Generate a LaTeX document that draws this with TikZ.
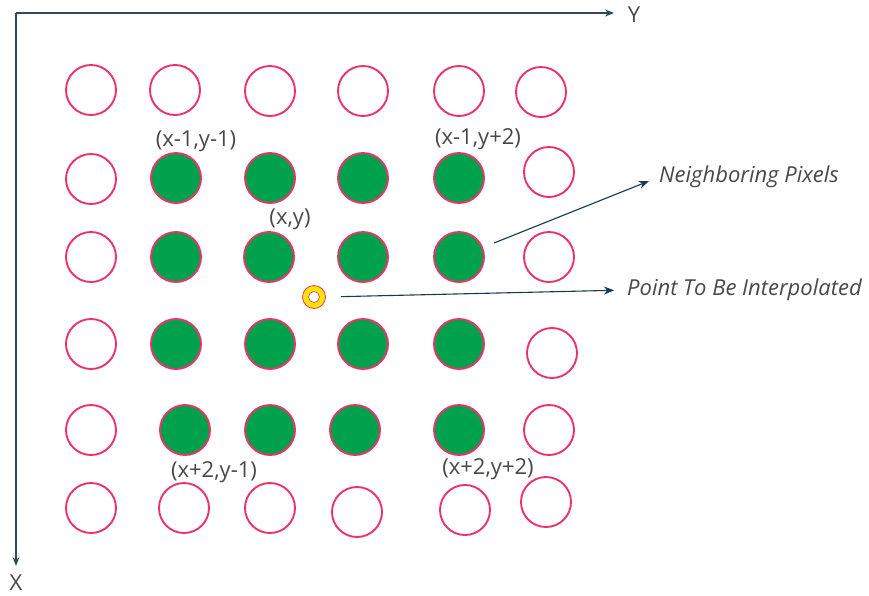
\documentclass[tikz,border=0pt]{standalone}
\usepackage{fontspec}
\setmainfont{Open Sans}
\usetikzlibrary{arrows.meta}

\definecolor{pixred}{RGB}{234,52,104}
\definecolor{pixgreen}{RGB}{0,161,76}
\definecolor{axisblue}{RGB}{45,75,90}
\definecolor{arrowblue}{RGB}{22,58,78}
\definecolor{ringyellow}{RGB}{255,228,0}
\definecolor{txtgray}{RGB}{72,72,72}

\begin{document}
\begin{tikzpicture}[x=1pt, y=-1pt,
	hole/.style={circle, draw=pixred, line width=1.9pt, fill=white, minimum size=50pt, inner sep=0pt},
	nbr/.style={hole, fill=pixgreen},
	lbl/.style={text=txtgray, font=\fontsize{22}{26}\selectfont, inner sep=0pt},
	axis/.style={axisblue, line width=1.2pt, -{Stealth[length=9pt,width=7pt]}},
	pointer/.style={arrowblue, line width=1.1pt, -{Stealth[length=10pt,width=8pt]}}]
	\useasboundingbox (0,0) rectangle (869,595);

	% axes
	\coordinate (O) at (16,13);
	\coordinate (Yend) at (614,13);
	\coordinate (Xend) at (16,566);
	\draw[axis] (O) -- (Yend);
	\draw[axis] (O) -- (Xend);
	\node[lbl] (ylab) at (634,15) {Y};
	\node[lbl] (xlab) at (16,583) {X};

	% empty pixels
	\foreach \n/\x/\y in {w11/91/90, w12/175/90, w13/270/91, w14/363/91, w15/459/91, w16/541/92,
		w21/91/179, w26/549/172, w31/91/257, w36/549/257, w41/91/344, w46/552/353,
		w51/91/430, w56/549/430, w61/91/508, w62/184/508, w63/270/508, w64/357/512,
		w65/465/510, w66/546/502}
		\node[hole] (\n) at (\x,\y) {};

	% neighboring pixels
	\foreach \n/\x/\y in {g22/176/178, g23/270/178, g24/363/178, g25/459/178,
		g32/176/257, g33/269/257, g34/363/257, g35/459/257,
		g42/176/344, g43/270/344, g44/363/344, g45/459/344,
		g52/185/430, g53/270/430, g54/355/430, g55/459/430}
		\node[nbr] (\n) at (\x,\y) {};

	% point to be interpolated
	\node[circle, draw=pixred, line width=0.8pt, fill=ringyellow, minimum size=23pt, inner sep=0pt] (interp) at (314,297) {};
	\draw[pixred, line width=0.6pt, fill=white] (interp.center) circle (5.5pt);

	% coordinate labels
	\node[lbl] (tl) at (196,141) {(x-1,y-1)};
	\node[lbl] (tr) at (478,139) {(x-1,y+2)};
	\node[lbl] (xy) at (290,219) {(x,y)};
	\node[lbl] (bl) at (214,472) {(x+2,y-1)};
	\node[lbl] (br) at (488,469) {(x+2,y+2)};

	\node[lbl, anchor=west, font=\fontsize{22}{26}\selectfont\itshape] (nblab) at (659,177) {Neighboring Pixels};
	\node[lbl, anchor=west, font=\fontsize{22}{26}\selectfont\itshape] (ptlab) at (627,290) {Point To Be Interpolated};

	\draw[pointer, shorten <=12pt, shorten >=11pt] (g35) -- (nblab.west);
	\draw[pointer, shorten <=15pt, shorten >=13pt] (interp.east) -- (ptlab.west);
\end{tikzpicture}
\end{document}
